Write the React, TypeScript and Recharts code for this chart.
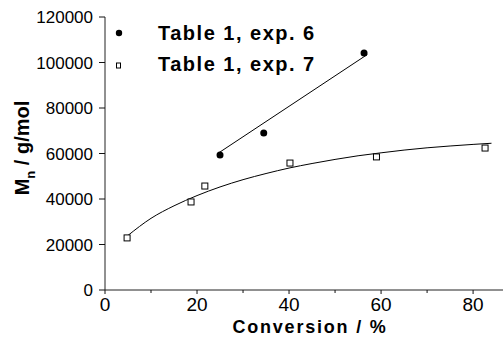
import React from 'react';
import { ComposedChart, Line, Scatter, XAxis, YAxis } from 'recharts';

// Table 1, exp. 6 (filled circles)
const exp6Conversion = [25, 34.5, 56.3];
const exp6Mn = [59300, 69000, 104200];

// linear fit through exp. 6
const fit6Conversion = [24.5, 57];
const fit6Mn = [60000, 103500];

// Table 1, exp. 7 (open squares)
const exp7Conversion = [4.8, 18.7, 21.7, 40.2, 59, 82.6];
const exp7Mn = [22900, 38700, 45700, 55800, 58500, 62400];

// fitted curve through exp. 7
const fit7Conversion = [5, 10, 15, 20, 25, 30, 35, 40, 45, 50, 55, 60, 65, 70, 75, 80, 84];
const fit7Mn = [24000, 31500, 37000, 41500, 45300, 48500, 51200, 53600, 55600, 57400, 59000, 60300, 61500, 62500, 63300, 64000, 64500];

const xTicks = [0, 10, 20, 30, 40, 50, 60, 70, 80];
const yTicks = [0, 10000, 20000, 30000, 40000, 50000, 60000, 70000, 80000, 90000, 100000, 110000, 120000];

const zip = (xs: number[], ys: number[]) => xs.map((x, i) => ({ x, y: ys[i] }));

const FONT = '"Liberation Sans", Arial, Helvetica, sans-serif';

const YTick = (props: any) => {
  const { x, y, payload } = props;
  const axisX = x + 12;
  const major = payload.value % 20000 === 0;
  return (
    <g>
      {major ? (
        <line x1={axisX - 6} x2={axisX} y1={y} y2={y} stroke="#111" />
      ) : (
        <line x1={axisX} x2={axisX + 3} y1={y} y2={y} stroke="#111" />
      )}
      {major && (
        <text x={axisX - 12} y={y} dy="0.36em" textAnchor="end" fontSize={17} fontFamily={FONT} fill="#000">
          {payload.value}
        </text>
      )}
    </g>
  );
};

const XTick = (props: any) => {
  const { x, y, payload } = props;
  const axisY = y - 8;
  const major = payload.value % 20 === 0;
  return (
    <g>
      <line x1={x} x2={x} y1={axisY} y2={axisY + (major ? 4 : 3)} stroke="#111" />
      {major && (
        <text x={x} y={axisY + 21} textAnchor="middle" fontSize={19} fontFamily={FONT} fill="#000">
          {payload.value}
        </text>
      )}
    </g>
  );
};

const YLabel = () => (
  <text
    transform="translate(29,148) rotate(-90)"
    textAnchor="middle"
    fontSize={20}
    fontWeight="bold"
    fontFamily={FONT}
    fill="#000"
  >
    M<tspan fontSize={13} dy={6}>n</tspan>
    <tspan dy={-6}> / g/mol</tspan>
  </text>
);

const XLabel = () => (
  <text x={310} y={333} textAnchor="middle" fontSize={18} fontWeight="bold" letterSpacing={1.8} fontFamily={FONT} fill="#000">
    Conversion / %
  </text>
);

const Dot = (props: any) => <circle cx={props.cx} cy={props.cy} r={3.5} fill="#000" />;
const Square = (props: any) => (
  <rect x={props.cx - 3} y={props.cy - 3} width={6} height={6} fill="#fff" stroke="#000" strokeWidth={1} />
);

const legendText: React.CSSProperties = {
  position: 'absolute',
  left: 158,
  fontFamily: FONT,
  fontWeight: 'bold',
  fontSize: 20,
  letterSpacing: 1.5,
  lineHeight: '20px',
  color: '#000',
  whiteSpace: 'nowrap',
};

export default function App() {
  return (
    <div style={{ position: 'absolute', left: 0, top: 0, width: 503, height: 344, background: '#fff' }}>
      <ComposedChart width={503} height={344} margin={{ top: 17, right: 0, bottom: 0, left: 0 }}>
        <XAxis
          type="number"
          dataKey="x"
          domain={[0, 86.5]}
          ticks={xTicks}
          allowDataOverflow
          height={54}
          tickSize={4}
          tickMargin={4}
          tickLine={false}
          tick={<XTick />}
          stroke="#222"
          label={<XLabel />}
        />
        <YAxis
          type="number"
          dataKey="y"
          domain={[0, 120000]}
          ticks={yTicks}
          width={105}
          tickSize={6}
          tickMargin={6}
          tickLine={false}
          tick={<YTick />}
          stroke="#222"
          label={<YLabel />}
        />
        <Line data={zip(fit6Conversion, fit6Mn)} dataKey="y" type="linear" stroke="#000" strokeWidth={1} dot={false} isAnimationActive={false} />
        <Line data={zip(fit7Conversion, fit7Mn)} dataKey="y" type="monotone" stroke="#000" strokeWidth={1} dot={false} isAnimationActive={false} />
        <Scatter data={zip(exp6Conversion, exp6Mn)} dataKey="y" shape={<Dot />} isAnimationActive={false} />
        <Scatter data={zip(exp7Conversion, exp7Mn)} dataKey="y" shape={<Square />} isAnimationActive={false} />
      </ComposedChart>
      <svg style={{ position: 'absolute', left: 112, top: 26 }} width={14} height={46}>
        <circle cx={7} cy={7} r={3.2} fill="#000" />
        <rect x={4.5} y={37} width={4} height={5} fill="#fff" stroke="#000" strokeWidth={1} />
      </svg>
      <div style={{ ...legendText, top: 23 }}>Table 1, exp. 6</div>
      <div style={{ ...legendText, top: 54 }}>Table 1, exp. 7</div>
    </div>
  );
}
